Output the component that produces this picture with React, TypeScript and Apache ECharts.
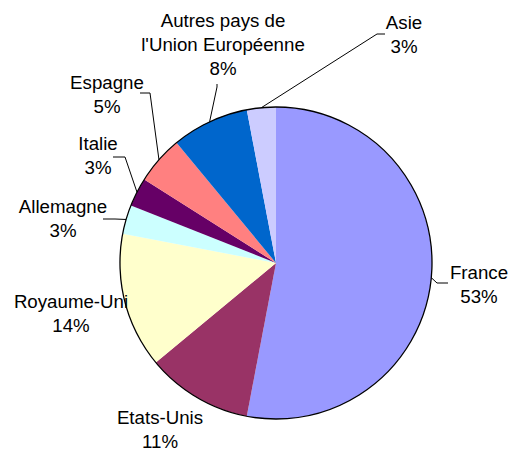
import React, { useEffect, useRef } from 'react';
import * as echarts from 'echarts';

const categories = [
  'France',
  'Etats-Unis',
  'Royaume-Uni',
  'Allemagne',
  'Italie',
  'Espagne',
  "Autres pays de\nl'Union Européenne",
  'Asie',
];
const shares = [53, 11, 14, 3, 3, 5, 8, 3];
const sliceColors = ['#9999FF', '#993366', '#FFFFCC', '#CCFFFF', '#660066', '#FF8080', '#0066CC', '#CCCCFF'];

// label placement (layout only): label block centre and guide-line elbow near the text
const labelPlacement: { x: number; y: number; line: number[][] | null }[] = [
  { x: 479, y: 284, line: [[437, 283], [448, 283]] },
  { x: 160, y: 429, line: null },
  { x: 71, y: 313, line: null },
  { x: 63, y: 218, line: [[115, 219], [103, 219]] },
  { x: 98, y: 155, line: [[125, 157], [113, 157]] },
  { x: 107, y: 94, line: [[150, 93], [140, 93]] },
  { x: 223, y: 44, line: [[217, 87], [217, 84]] },
  { x: 404, y: 34, line: [[377, 34], [385, 34]] },
];

export default function App() {
  const ref = useRef<HTMLDivElement>(null);
  useEffect(() => {
    if (!ref.current) return;
    const chart = echarts.init(ref.current, null, { renderer: 'svg' });
    const center = [276, 263];
    const radius = 156;
    chart.setOption({
      animation: false,
      backgroundColor: '#fff',
      series: [
        {
          type: 'pie',
          center,
          radius,
          startAngle: 90,
          clockwise: true,
          avoidLabelOverlap: false,
          silent: true,
          emphasis: { disabled: true },
          itemStyle: { borderWidth: 0 },
          label: {
            show: true,
            position: 'outside',
            formatter: '{b}\n{c}%',
            fontFamily: 'Liberation Sans, Arial, sans-serif',
            fontSize: 18.7,
            lineHeight: 24,
            color: '#000',
            align: 'center',
          },
          labelLine: {
            show: true,
            length: 10,
            length2: 10,
            smooth: false,
            lineStyle: { color: '#000', width: 1 },
          },
          labelLayout: (params: any) => {
            const p = labelPlacement[params.dataIndex];
            const res: any = { x: p.x, y: p.y, align: 'center', verticalAlign: 'middle' };
            if (p.line && params.labelLinePoints && params.labelLinePoints[0]) {
              res.labelLinePoints = [params.labelLinePoints[0], ...p.line];
            }
            return res;
          },
          data: categories.map((name, i) => ({
            name,
            value: shares[i],
            itemStyle: { color: sliceColors[i] },
            labelLine: { show: labelPlacement[i].line != null },
          })),
        },
        {
          type: 'pie',
          center,
          radius,
          silent: true,
          emphasis: { disabled: true },
          label: { show: false },
          labelLine: { show: false },
          itemStyle: { color: 'rgba(0,0,0,0)', borderColor: '#000', borderWidth: 1.3 },
          data: [{ name: 'outline', value: 1 }],
        },
      ],
    });
    return () => chart.dispose();
  }, []);
  return (
    <div
      ref={ref}
      style={{ position: 'fixed', left: 0, top: 0, width: 521, height: 450 }}
    />
  );
}
